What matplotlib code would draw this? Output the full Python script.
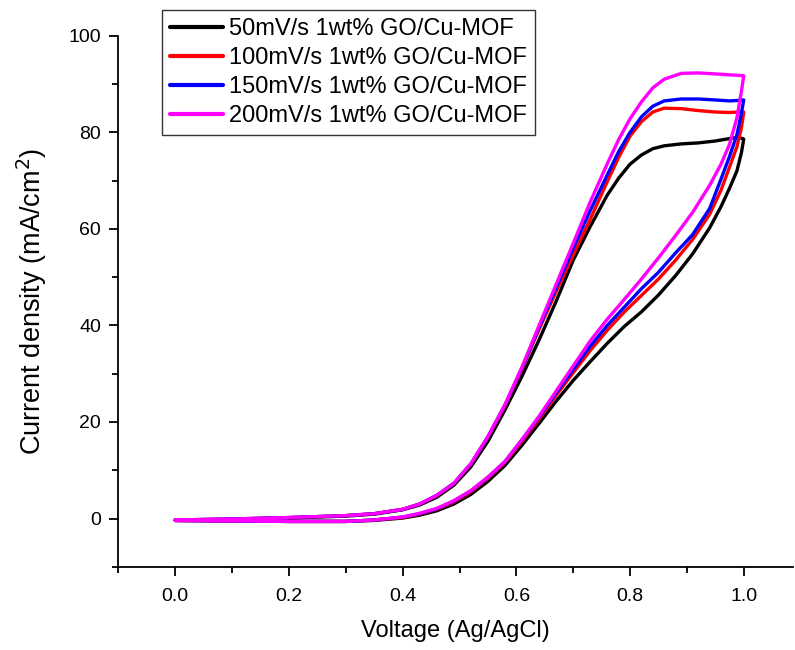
import matplotlib
matplotlib.use("Agg")
import matplotlib.pyplot as plt
from matplotlib.ticker import MultipleLocator

plt.rcParams['font.family'] = ['Liberation Sans', 'DejaVu Sans']

labels = ["50mV/s 1wt% GO/Cu-MOF", "100mV/s 1wt% GO/Cu-MOF",
          "150mV/s 1wt% GO/Cu-MOF", "200mV/s 1wt% GO/Cu-MOF"]
colors = ["#000000", "#ff0000", "#0000ff", "#ff00ff"]

# lower (forward) branch voltages, 0 -> 1.0 V
v_fwd = [0.00, 0.10, 0.20, 0.30, 0.35, 0.40, 0.43, 0.46, 0.49, 0.52, 0.55,
         0.58, 0.61, 0.64, 0.67, 0.70, 0.73, 0.76, 0.79, 0.82, 0.85, 0.88,
         0.91, 0.94, 0.96, 0.975, 0.988, 0.996, 1.00]
i_fwd_50 = [-0.4, -0.5, -0.6, -0.6, -0.4, 0.1, 0.7, 1.6, 3.0, 5.0, 7.7,
            11.0, 15.2, 19.7, 24.3, 28.6, 32.5, 36.3, 39.8, 42.8, 46.3, 50.3,
            54.8, 60.2, 64.6, 68.4, 72.0, 75.8, 78.6]
i_fwd_100 = [-0.4, -0.5, -0.6, -0.6, -0.3, 0.2, 0.9, 1.9, 3.4, 5.5, 8.3,
             11.6, 16.0, 20.6, 25.5, 30.2, 34.8, 39.0, 42.8, 46.2, 49.6, 53.5,
             57.8, 63.0, 68.0, 72.8, 77.0, 81.0, 84.2]
i_fwd_150 = [-0.4, -0.5, -0.6, -0.6, -0.3, 0.3, 1.0, 2.0, 3.6, 5.7, 8.5,
             11.8, 16.3, 21.0, 26.0, 30.9, 35.7, 40.0, 43.8, 47.6, 51.0, 55.0,
             58.8, 64.2, 70.3, 75.0, 79.5, 84.0, 86.7]
i_fwd_200 = [-0.4, -0.5, -0.6, -0.6, -0.3, 0.3, 1.1, 2.1, 3.7, 5.8, 8.6,
             11.8, 16.4, 21.2, 26.4, 31.6, 36.8, 41.3, 45.4, 49.6, 54.0, 58.6,
             63.4, 69.0, 73.4, 77.5, 83.0, 88.5, 91.7]

# upper (reverse) branch voltages, 1.0 -> 0 V
v_rev = [1.00, 0.99, 0.975, 0.95, 0.92, 0.89, 0.86, 0.84, 0.82, 0.80, 0.78,
         0.76, 0.73, 0.70, 0.67, 0.64, 0.61, 0.58, 0.55, 0.52, 0.49, 0.46,
         0.43, 0.40, 0.35, 0.30, 0.20, 0.10, 0.00]
i_rev_50 = [78.6, 79.0, 78.7, 78.2, 77.8, 77.6, 77.2, 76.6, 75.3, 73.4, 70.5,
            67.0, 60.5, 53.5, 45.0, 37.0, 29.5, 22.5, 16.0, 10.7, 6.9, 4.4,
            2.8, 1.8, 0.9, 0.5, 0.1, -0.2, -0.3]
i_rev_100 = [84.2, 84.2, 84.1, 84.2, 84.5, 84.9, 85.0, 84.2, 82.2, 79.2, 74.8,
             69.8, 62.0, 54.6, 47.0, 39.2, 31.0, 23.3, 16.8, 11.2, 7.2, 4.7,
             3.0, 1.9, 1.0, 0.6, 0.2, -0.1, -0.3]
i_rev_150 = [86.7, 86.6, 86.5, 86.7, 86.9, 86.9, 86.5, 85.4, 83.2, 80.0, 76.0,
             71.2, 63.8, 56.0, 47.8, 39.6, 31.2, 23.5, 16.9, 11.3, 7.3, 4.8,
             3.0, 1.9, 1.0, 0.6, 0.2, -0.1, -0.3]
i_rev_200 = [91.7, 91.8, 91.9, 92.1, 92.3, 92.2, 91.0, 89.2, 86.3, 82.8, 78.5,
             73.5, 65.6, 57.0, 48.5, 40.0, 31.4, 23.6, 17.0, 11.4, 7.3, 4.8,
             3.0, 1.9, 1.0, 0.6, 0.2, -0.1, -0.3]

fwd = [i_fwd_50, i_fwd_100, i_fwd_150, i_fwd_200]
rev = [i_rev_50, i_rev_100, i_rev_150, i_rev_200]

fig = plt.figure(figsize=(7.95, 6.5), dpi=100)
ax = fig.add_axes([0.149, 0.128, 0.848, 0.817])

for f, r, c, lab in zip(fwd, rev, colors, labels):
    ax.plot(v_fwd + v_rev, f + r, color=c, lw=2.4, label=lab,
            solid_joinstyle='round', solid_capstyle='round')

ax.set_xlim(-0.1, 1.086)
ax.set_ylim(-10, 100)
ax.xaxis.set_minor_locator(MultipleLocator(0.1))
ax.yaxis.set_major_locator(MultipleLocator(20))
ax.yaxis.set_minor_locator(MultipleLocator(10))
ax.set_xticks([0.0, 0.2, 0.4, 0.6, 0.8, 1.0])
ax.set_xticklabels(["0.0", "0.2", "0.4", "0.6", "0.8", "1.0"])
ax.spines['top'].set_visible(False)
ax.spines['right'].set_visible(False)
for s in ['left', 'bottom']:
    ax.spines[s].set_linewidth(1.3)
ax.tick_params(which='major', direction='out', length=6.5, width=1.3, labelsize=14, pad=6)
ax.tick_params(axis='x', which='major', pad=8.5)
ax.tick_params(which='minor', direction='out', length=4, width=1.3)
ax.set_xlabel("Voltage (Ag/AgCl)", fontsize=17, labelpad=11)
ax.set_ylabel("Current density (mA/cm$^2$)", fontsize=19.5, labelpad=14)

leg = fig.legend(loc='upper left', bbox_to_anchor=(0.204, 0.984), fontsize=17,
                 frameon=True, fancybox=False, edgecolor='black',
                 handlelength=2.25, handletextpad=0.25, labelspacing=0.3,
                 borderpad=0.33, borderaxespad=0)
leg.get_frame().set_linewidth(1.0)
for h in leg.get_lines():
    h.set_linewidth(3)

fig.savefig("out.png", dpi=100)
